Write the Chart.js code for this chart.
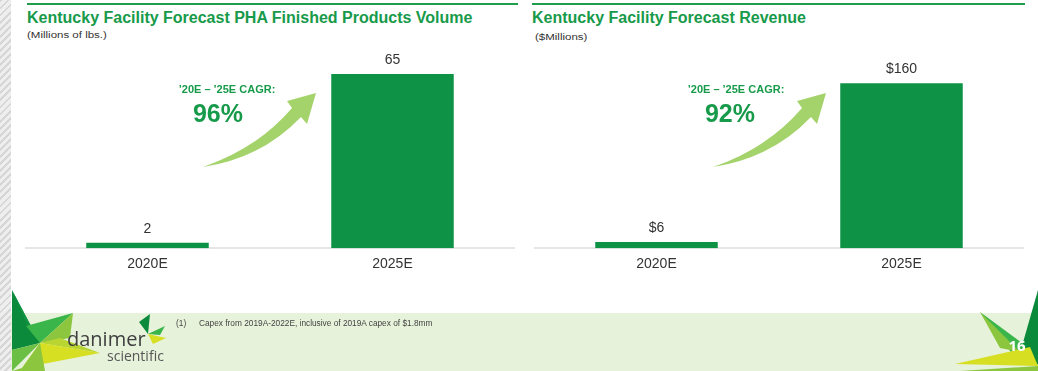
<!DOCTYPE html>
<html>
<head>
<meta charset="utf-8">
<script src="https://cdn.jsdelivr.net/npm/chart.js@4.4.1/dist/chart.umd.min.js"></script>
<style>
  html, body { margin: 0; padding: 0; }
  body { width: 1038px; height: 371px; position: relative; overflow: hidden; background: #fff;
         font-family: 'Liberation Sans', Arial, sans-serif; }
  .strip { position: absolute; left: 0; top: 0; width: 11px; height: 371px;
           background: repeating-linear-gradient(135deg, #d6d6d6 0 2px, #eeeeee 2px 5px); }
  .band { position: absolute; left: 11px; top: 313px; width: 1027px; height: 58px; background: #e7f2da; }
  .rule { position: absolute; top: 3px; height: 2px; background: #1f9d4d; }
  .title { position: absolute; top: 10px; font-weight: bold; font-size: 16px; line-height: 16px; color: #179a4a; white-space: nowrap; }
  .sub { position: absolute; font-size: 11.5px; line-height: 11.5px; color: #333; white-space: nowrap; transform: scaleY(0.8); transform-origin: left top; }
  .box { position: absolute; top: 40px; width: 490px; height: 250px; }
  .cagr { position: absolute; font-weight: bold; color: #179a4a; text-align: center; white-space: nowrap; }
  .foot { position: absolute; top: 319px; font-size: 8.3px; line-height: 8.3px; color: #444; white-space: nowrap; }
  svg { position: absolute; left: 0; top: 0; }
</style>
</head>
<body>
<div class="strip"></div>
<div class="band"></div>

<div class="rule" style="left:27px;width:491px"></div>
<div class="rule" style="left:532px;width:493px"></div>

<div class="title" style="left:27px">Kentucky Facility Forecast PHA Finished Products Volume</div>
<div class="sub" style="left:27px;top:31px">(Millions of lbs.)</div>
<div class="title" style="left:532px">Kentucky Facility Forecast Revenue</div>
<div class="sub" style="left:535px;top:33px">($Millions)</div>

<div class="box" style="left:25px"><canvas id="volumeChart"></canvas></div>
<div class="box" style="left:534px"><canvas id="revenueChart"></canvas></div>

<svg width="1038" height="371">
  <!-- growth arrows -->
  <path d="M203,167 Q258,148 292,108 L287,101 L316,93 L307,124 L301,117 Q262,158 203,167 Z" fill="#a5d36b"/>
  <path d="M713,167 Q768,148 802,108 L797,101 L826,93 L817,124 L811,117 Q772,158 713,167 Z" fill="#a5d36b"/>

  <!-- logo star, bottom left -->
  <polygon points="12,290 40,343 12,350" fill="#0b8a3c"/>
  <polygon points="12,290 40,343 26,322" fill="#129444"/>
  <polygon points="73,313 40,343 26,326" fill="#39b54a"/>
  <polygon points="73,313 40,343 70,338" fill="#8cc63f"/>
  <polygon points="100,353 40,343 60,338" fill="#b9d532"/>
  <polygon points="100,353 40,343 22,368" fill="#d7df23"/>
  <polygon points="12,350 40,343 12,371" fill="#6cbf45"/>
  <polygon points="40,343 22,368 12,371 45,371" fill="#8cc63f"/>

  <!-- small leaf -->
  <polygon points="150,314 139,322 148,334" fill="#0b8a3c"/>
  <polygon points="148,334 165,326 160,335" fill="#39b54a"/>
  <polygon points="148,334 166,338 153,344" fill="#d7df23"/>

  <!-- page corner star -->
  <polygon points="1038,290 1022,346 1038,365" fill="#0b8a3c"/>
  <polygon points="980,312 1026,346 1014,356" fill="#39b54a"/>
  <polygon points="980,312 1000,348 1020,352" fill="#8cc63f"/>
  <polygon points="955,364 1030,347 1038,366" fill="#d7df23"/>
  <polygon points="960,371 1038,366 1038,371" fill="#8cc63f"/>
  <text x="1017" y="351" text-anchor="middle" font-family="Open Sans, sans-serif" font-weight="bold" font-size="15" fill="#fff">16</text>

  <text x="67" y="346" font-family="Open Sans, sans-serif" font-size="20" fill="#3f3f3f">danimer</text>
  <text x="107" y="361" font-family="Open Sans, sans-serif" font-size="14" fill="#555">scientific</text>
</svg>

<div class="cagr" style="left:167px;top:84px;width:120px;font-size:11px;line-height:11px">’20E – ’25E CAGR:</div>
<div class="cagr" style="left:167px;top:101px;width:102px;font-size:25px;line-height:25px">96%</div>
<div class="cagr" style="left:676px;top:84px;width:120px;font-size:11px;line-height:11px">’20E – ’25E CAGR:</div>
<div class="cagr" style="left:676px;top:101px;width:108px;font-size:25px;line-height:25px">92%</div>

<div class="foot" style="left:176px">(1)</div>
<div class="foot" style="left:199px">Capex from 2019A-2022E, inclusive of 2019A capex of $1.8mm</div>

<script>
// data
const years = ['2020E', '2025E'];
const volumeLbs = [2, 65];       // millions of lbs
const revenueUsd = [6, 160];     // $ millions

const BAR_GREEN = '#0e9346';

// draws the value above each bar
const valueLabels = {
    id: 'valueLabels',
    afterDatasetsDraw(chart, args, opts) {
        const ctx = chart.ctx;
        const meta = chart.getDatasetMeta(0);
        const values = chart.data.datasets[0].data;
        ctx.save();
        ctx.font = '14px "Liberation Sans", Arial, sans-serif';
        ctx.fillStyle = '#333';
        ctx.textAlign = 'center';
        ctx.textBaseline = 'alphabetic';
        meta.data.forEach((bar, i) => {
            ctx.fillText((opts.prefix || '') + values[i], bar.x, bar.y - 10);
        });
        ctx.restore();
    }
};

function makeBarChart(id, values, yMax, prefix) {
    const el = document.getElementById(id);
    return new Chart(el.getContext('2d'), {
        type: 'bar',
        data: {
            labels: years,
            datasets: [{
                data: values,
                backgroundColor: BAR_GREEN,
                borderWidth: 0,
                barPercentage: 0.5,
                categoryPercentage: 1.0
            }]
        },
        options: {
            responsive: true,
            maintainAspectRatio: false,
            animation: false,
            layout: { padding: { top: 34, bottom: 9, left: 0, right: 0 } },
            plugins: {
                legend: { display: false },
                tooltip: { enabled: false },
                valueLabels: { prefix: prefix }
            },
            scales: {
                x: {
                    grid: { display: false, drawTicks: false },
                    border: { display: true, color: '#e6e6e6', width: 2 },
                    ticks: {
                        color: '#333',
                        padding: 8,
                        font: { family: "'Liberation Sans', Arial, sans-serif", size: 14 }
                    }
                },
                y: { display: false, min: 0, max: yMax }
            }
        },
        plugins: [valueLabels]
    });
}

makeBarChart('volumeChart', volumeLbs, 65, '');
makeBarChart('revenueChart', revenueUsd, 169, '$');
</script>
</body>
</html>
